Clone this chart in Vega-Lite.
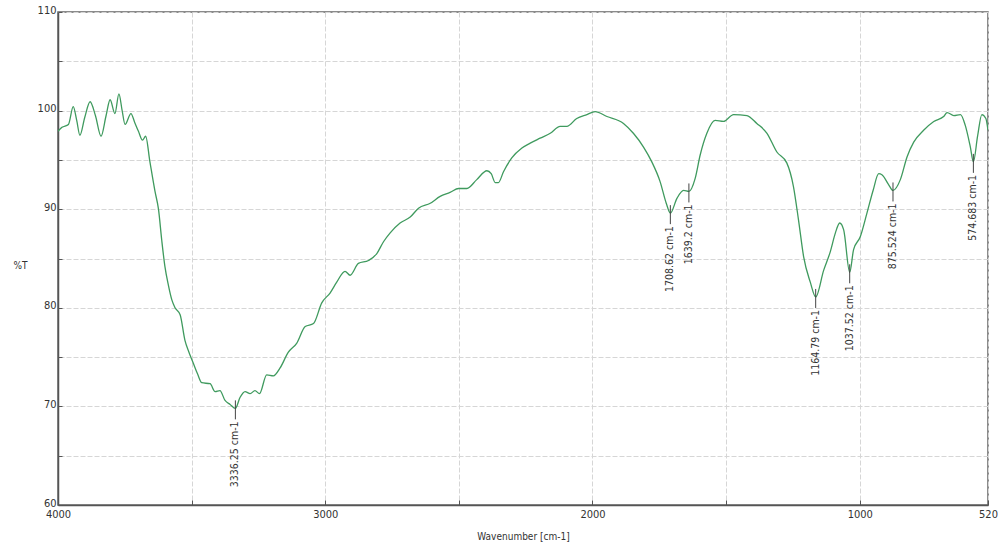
{
  "$schema": "https://vega.github.io/schema/vega-lite/v6.json",
  "width": 930,
  "height": 493,
  "autosize": {"type": "none"},
  "padding": {"left": 58, "top": 12, "right": 12, "bottom": 42},
  "background": "white",
  "config": {
    "view": {"stroke": "#666", "strokeWidth": 1.5},
    "font": "Liberation Sans Narrow, DejaVu Sans Condensed, sans-serif"
  },
  "datasets": {
    "spectrum": [
      {"wn": 4000, "T": 97.9}, {"wn": 3985, "T": 98.3}, {"wn": 3961, "T": 98.6}, {"wn": 3943, "T": 100.4},
      {"wn": 3930, "T": 99.0}, {"wn": 3918, "T": 97.5}, {"wn": 3900, "T": 99.3}, {"wn": 3880, "T": 100.9},
      {"wn": 3860, "T": 99.5}, {"wn": 3839, "T": 97.4}, {"wn": 3820, "T": 99.5}, {"wn": 3805, "T": 101.1},
      {"wn": 3787, "T": 99.7}, {"wn": 3772, "T": 101.7}, {"wn": 3760, "T": 100.0}, {"wn": 3749, "T": 98.6},
      {"wn": 3727, "T": 99.7}, {"wn": 3713, "T": 98.8}, {"wn": 3699, "T": 97.9}, {"wn": 3684, "T": 97.0},
      {"wn": 3672, "T": 97.4}, {"wn": 3656, "T": 94.8}, {"wn": 3637, "T": 91.8}, {"wn": 3624, "T": 90.0},
      {"wn": 3612, "T": 86.9}, {"wn": 3600, "T": 84.2}, {"wn": 3587, "T": 82.3}, {"wn": 3574, "T": 80.8},
      {"wn": 3562, "T": 80.0}, {"wn": 3543, "T": 79.3}, {"wn": 3525, "T": 76.7}, {"wn": 3510, "T": 75.5},
      {"wn": 3494, "T": 74.4}, {"wn": 3478, "T": 73.3}, {"wn": 3462, "T": 72.4}, {"wn": 3431, "T": 72.3},
      {"wn": 3412, "T": 71.5}, {"wn": 3394, "T": 71.6}, {"wn": 3375, "T": 70.6}, {"wn": 3356, "T": 70.2},
      {"wn": 3336.25, "T": 69.8}, {"wn": 3319, "T": 70.9}, {"wn": 3300, "T": 71.5}, {"wn": 3281, "T": 71.3},
      {"wn": 3263, "T": 71.6}, {"wn": 3246, "T": 71.3}, {"wn": 3219, "T": 73.2}, {"wn": 3194, "T": 73.1},
      {"wn": 3169, "T": 73.9}, {"wn": 3138, "T": 75.5}, {"wn": 3107, "T": 76.4}, {"wn": 3075, "T": 78.1},
      {"wn": 3044, "T": 78.4}, {"wn": 3013, "T": 80.5}, {"wn": 2982, "T": 81.5}, {"wn": 2957, "T": 82.6},
      {"wn": 2926, "T": 83.7}, {"wn": 2907, "T": 83.3}, {"wn": 2876, "T": 84.5}, {"wn": 2838, "T": 84.8},
      {"wn": 2807, "T": 85.5}, {"wn": 2782, "T": 86.7}, {"wn": 2757, "T": 87.6}, {"wn": 2720, "T": 88.6},
      {"wn": 2682, "T": 89.2}, {"wn": 2651, "T": 90.1}, {"wn": 2607, "T": 90.6}, {"wn": 2570, "T": 91.3},
      {"wn": 2533, "T": 91.7}, {"wn": 2501, "T": 92.1}, {"wn": 2470, "T": 92.1}, {"wn": 2433, "T": 93.0},
      {"wn": 2395, "T": 93.9}, {"wn": 2379, "T": 93.6}, {"wn": 2364, "T": 92.7}, {"wn": 2352, "T": 92.7},
      {"wn": 2333, "T": 93.8}, {"wn": 2302, "T": 95.2}, {"wn": 2264, "T": 96.2}, {"wn": 2233, "T": 96.7},
      {"wn": 2196, "T": 97.2}, {"wn": 2158, "T": 97.7}, {"wn": 2121, "T": 98.4}, {"wn": 2096, "T": 98.4},
      {"wn": 2059, "T": 99.2}, {"wn": 2021, "T": 99.6}, {"wn": 1990, "T": 99.9}, {"wn": 1946, "T": 99.4},
      {"wn": 1884, "T": 98.7}, {"wn": 1847, "T": 97.7}, {"wn": 1809, "T": 96.3}, {"wn": 1778, "T": 94.8},
      {"wn": 1747, "T": 92.8}, {"wn": 1724, "T": 90.6}, {"wn": 1708.62, "T": 89.6}, {"wn": 1684, "T": 91.1},
      {"wn": 1659, "T": 91.9}, {"wn": 1639.2, "T": 91.8}, {"wn": 1616, "T": 93.1}, {"wn": 1597, "T": 95.5},
      {"wn": 1572, "T": 97.7}, {"wn": 1541, "T": 99.0}, {"wn": 1510, "T": 98.9}, {"wn": 1472, "T": 99.6},
      {"wn": 1422, "T": 99.5}, {"wn": 1385, "T": 98.7}, {"wn": 1347, "T": 97.7}, {"wn": 1310, "T": 95.8},
      {"wn": 1273, "T": 94.7}, {"wn": 1248, "T": 92.3}, {"wn": 1229, "T": 88.9}, {"wn": 1210, "T": 85.2},
      {"wn": 1185, "T": 82.6}, {"wn": 1164.79, "T": 81.1}, {"wn": 1135, "T": 83.8}, {"wn": 1110, "T": 85.7},
      {"wn": 1091, "T": 87.6}, {"wn": 1075, "T": 88.6}, {"wn": 1060, "T": 87.9}, {"wn": 1037.52, "T": 83.6},
      {"wn": 1023, "T": 85.9}, {"wn": 998, "T": 87.2}, {"wn": 973, "T": 89.6}, {"wn": 950, "T": 91.9},
      {"wn": 929, "T": 93.6}, {"wn": 917, "T": 93.5}, {"wn": 892, "T": 92.5}, {"wn": 875.524, "T": 91.9},
      {"wn": 848, "T": 93.0}, {"wn": 823, "T": 95.3}, {"wn": 798, "T": 96.8}, {"wn": 761, "T": 98.0},
      {"wn": 723, "T": 98.9}, {"wn": 686, "T": 99.4}, {"wn": 673, "T": 99.8}, {"wn": 648, "T": 99.5},
      {"wn": 623, "T": 99.6}, {"wn": 605, "T": 98.5}, {"wn": 586, "T": 96.3}, {"wn": 574.683, "T": 94.8},
      {"wn": 559, "T": 97.4}, {"wn": 543, "T": 99.6}, {"wn": 528, "T": 99.2}, {"wn": 520, "T": 98.0}
    ],
    "peaks": [
      {"wn": 3336.25, "T": 69.8, "label": "3336.25 cm-1"},
      {"wn": 1708.62, "T": 89.6, "label": "1708.62 cm-1"},
      {"wn": 1639.2, "T": 91.8, "label": "1639.2 cm-1"},
      {"wn": 1164.79, "T": 81.1, "label": "1164.79 cm-1"},
      {"wn": 1037.52, "T": 83.6, "label": "1037.52 cm-1"},
      {"wn": 875.524, "T": 91.9, "label": "875.524 cm-1"},
      {"wn": 574.683, "T": 94.8, "label": "574.683 cm-1"}
    ]
  },
  "layer": [
    {
      "data": {"name": "spectrum"},
      "mark": {"type": "line", "color": "#3f9a5e", "strokeWidth": 1.3, "clip": true, "interpolate": "monotone"},
      "encoding": {
        "x": {
          "field": "wn", "type": "quantitative",
          "scale": {"domain": [520, 4000], "reverse": true, "nice": false, "zero": false},
          "axis": {
            "title": "Wavenumber [cm-1]",
            "values": [4000, 3500, 3000, 2500, 2000, 1500, 1000, 520],
            "labelExpr": "(datum.value == 3500 || datum.value == 2500 || datum.value == 1500) ? '' : datum.label",
            "format": "d",
            "grid": true, "gridColor": "#d6d6d6", "gridDash": [5, 2], "gridWidth": 1,
            "domainColor": "#555", "domainWidth": 1.5,
            "tickColor": "#555", "tickSize": -5,
            "labelFontSize": 11, "labelColor": "#333", "labelPadding": 8,
            "labelFlush": false, "labelOverlap": false,
            "titleFontSize": 10, "titleFontWeight": "normal", "titleColor": "#333",
            "titleY": 31, "titleBaseline": "middle"
          }
        },
        "y": {
          "field": "T", "type": "quantitative",
          "scale": {"domain": [60, 110], "nice": false, "zero": false},
          "axis": {
            "title": "%T",
            "values": [60, 65, 70, 75, 80, 85, 90, 95, 100, 105, 110],
            "labelExpr": "datum.value % 10 == 0 ? datum.label : ''",
            "grid": true, "gridColor": "#d6d6d6", "gridDash": [5, 2], "gridWidth": 1,
            "domainColor": "#555", "domainWidth": 1.5,
            "tickColor": "#555", "tickSize": -4,
            "labelFontSize": 11, "labelColor": "#333", "labelPadding": 6,
            "labelFlush": false, "labelOverlap": false, "labelOffset": -2,
            "titleFontSize": 10, "titleFontWeight": "normal", "titleColor": "#333",
            "titleAngle": 0, "titleX": -38, "titleY": 253, "titleAlign": "center", "titleBaseline": "middle"
          }
        }
      }
    },
    {
      "data": {"name": "peaks"},
      "mark": {"type": "rule", "color": "#444", "strokeWidth": 1, "yOffset": -8, "y2Offset": 11},
      "encoding": {
        "x": {"field": "wn", "type": "quantitative"},
        "y": {"field": "T", "type": "quantitative"},
        "y2": {"field": "T"}
      }
    },
    {
      "data": {"name": "peaks"},
      "mark": {"type": "text", "angle": 270, "align": "right", "baseline": "middle", "yOffset": 13, "fontSize": 10.5, "color": "#333"},
      "encoding": {
        "x": {"field": "wn", "type": "quantitative"},
        "y": {"field": "T", "type": "quantitative"},
        "text": {"field": "label"}
      }
    }
  ]
}
